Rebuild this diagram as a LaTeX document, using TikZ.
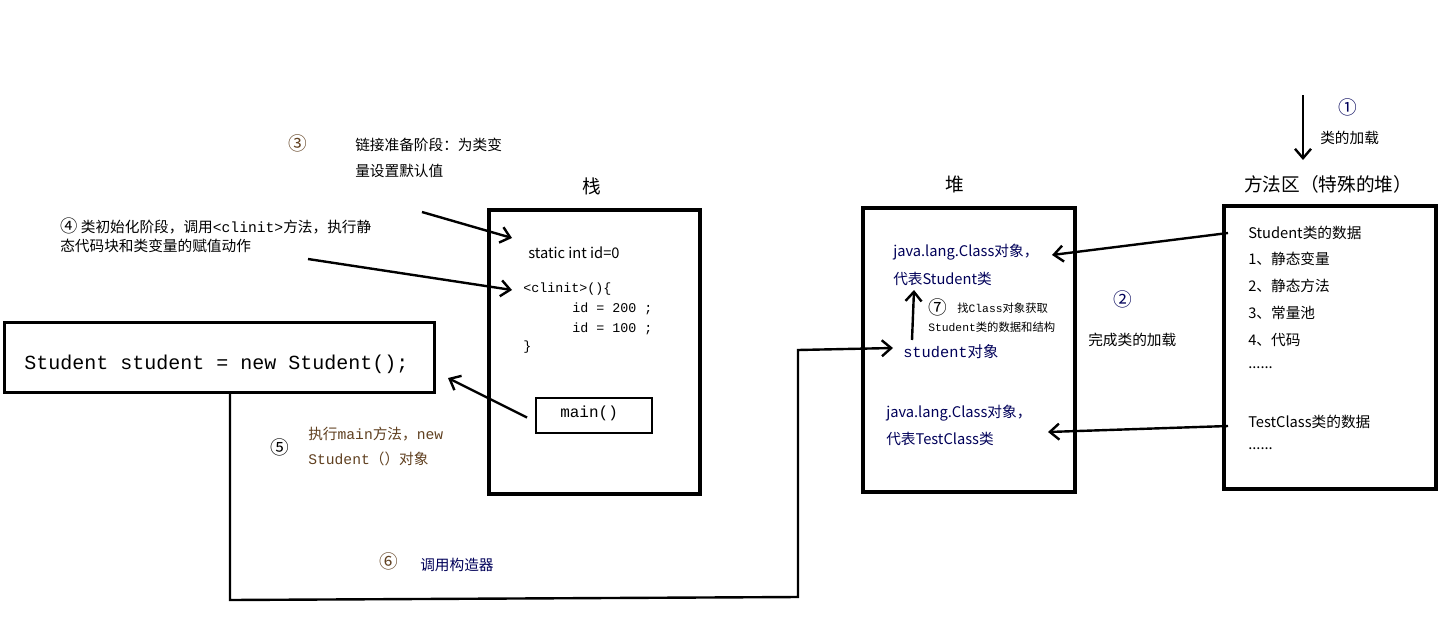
\documentclass[tikz,border=0pt]{standalone}
\usepackage{fontspec}
\usetikzlibrary{arrows.meta}
\setmainfont{Noto Sans CJK SC}
\newfontfamily\mono{Liberation Mono}
\newfontfamily\cj{Noto Sans CJK SC}
\begin{document}
\begin{tikzpicture}[x=0.75pt,y=-0.75pt,
  box/.style={draw,line width=3pt},
  arr/.style={line width=1.8pt,-{Straight Barb[length=7pt,width=12pt]}},
  t/.style={anchor=west,inner sep=0pt,font=\fontsize{11}{12}\selectfont},
  c/.style={anchor=west,inner sep=0pt,font=\fontsize{14}{15}\selectfont},
  m/.style={anchor=west,inner sep=0pt,font=\mono\fontsize{10}{12}\selectfont},
  b/.style={text=blue!35!black},
  br/.style={text=brown!50!black}]
\useasboundingbox (0,0) rectangle (1456,618);
\fill[white] (0,0) rectangle (1456,618);
% boxes
\node[box,minimum width=158pt,minimum height=213pt,inner sep=0pt] (stack) at (594.5,352) {};
\node[box,minimum width=159pt,minimum height=213pt,inner sep=0pt] (heap) at (969,350) {};
\node[box,minimum width=159pt,minimum height=212pt,inner sep=0pt] (meth) at (1330,347.5) {};
\node[draw,line width=2.2pt,minimum width=323pt,minimum height=53pt,inner sep=0pt] (stu) at (219.5,357.5) {};
\node[draw,line width=1.5pt,minimum width=87pt,minimum height=26pt,inner sep=0pt] (main) at (594,415.5) {};
\node[t,anchor=west] at (24,364) {\mono\fontsize{15}{16}\selectfont Student student = new Student();};
\node[m] at (560,413) {\fontsize{12}{14}\selectfont main()};
% titles
\node[font=\fontsize{14}{15}\selectfont] (tz) at (592,186) {栈};
\node[font=\fontsize{14}{15}\selectfont] (td) at (955,184) {堆};
\node[font=\fontsize{14}{15}\selectfont] (tf) at (1328,184) {方法区（特殊的堆）};
% stack content
\node[t] (sid) at (528,253) {static int id=0};
\node[m] (cl) at (523,289) {<clinit>()\{};
\node[m] at (572,309) {id = 200 ;};
\node[m] at (572,329) {id = 100 ;};
\node[m] at (523,347) {\}};
% heap content
\node[t,b] (jc1) at (893,252) {java.lang.Class对象，};
\node[t,b] at (893,279) {代表Student类};
\node[c] at (928,307) {⑦};
\node[t,font=\mono\fontsize{8.5}{10}\selectfont] at (957,308) {{\cj 找}Class{\cj 对象获取}};
\node[t,font=\mono\fontsize{8.5}{10}\selectfont] at (928,327) {Student{\cj 类的数据和结构}};
\node[t,b,font=\mono\fontsize{11.5}{13}\selectfont] (so) at (903,352) {student{\cj 对象}};
\node[t,b] (jc2) at (886,413) {java.lang.Class对象，};
\node[t,b] at (886,439) {代表TestClass类};
% method area
\node[t] (sd) at (1248,233) {Student类的数据};
\node[t] at (1248,259) {1、静态变量};
\node[t] at (1248,286) {2、静态方法};
\node[t] at (1248,313) {3、常量池};
\node[t] at (1248,340) {4、代码};
\node[t] at (1248,368) {......};
\node[t] (td2) at (1248,422) {TestClass类的数据};
\node[t] at (1248,449) {......};
% annotations
\node[c,b] at (1338,107) {①};
\node[t] at (1320,138) {类的加载};
\node[c,b] at (1113,299) {②};
\node[t] at (1088,340) {完成类的加载};
\node[c,br] at (288,143) {③};
\node[t] at (355,145) {链接准备阶段：为类变};
\node[t] at (355,171) {量设置默认值};
\node[t] at (60,226) {{\fontsize{13}{14}\selectfont ④} 类初始化阶段，调用{\mono <clinit>}方法，执行静};
\node[t] at (60,246) {态代码块和类变量的赋值动作};
\node[c] at (270,447) {⑤};
\node[t,br,font=\mono\fontsize{11}{12}\selectfont] at (308,434) {{\cj 执行}main{\cj 方法，}new};
\node[t,br,font=\mono\fontsize{11}{12}\selectfont] at (308,459) {Student{\cj （）对象}};
\node[c,br] at (379,561) {⑥};
\node[t,b] at (420,565) {调用构造器};
% connectors
\coordinate (a1) at (1303,95);
\coordinate (a1e) at (1303,160);
\draw[arr] (a1) -- (a1e);
\draw[arr] (sd.west) ++(-20,0) coordinate (sdw) (sdw) -- (1052,255);
\draw[arr] (td2.west) ++(-20,4) coordinate (tdw) (tdw) -- (1048,432);
\coordinate (c3) at (422,212);
\draw[arr] (c3) -- (512,238);
\coordinate (c4) at (308,259);
\draw[arr] (c4) -- (512,290);
\draw[arr] (main.west) ++(-8,2) coordinate (mw) (mw) -- (448,378);
\coordinate (p1) at (230,393);
\coordinate (p2) at (230,600);
\coordinate (p3) at (798,597);
\coordinate (p4) at (798,350);
\draw[line width=1.8pt,-{Straight Barb[length=7pt,width=12pt]}] (p1) -- (p2) -- (p3) -- (p4) -- (893,348);
\coordinate (s7) at (912,340);
\draw[arr] (s7) -- (914,290);
\end{tikzpicture}
\end{document}
